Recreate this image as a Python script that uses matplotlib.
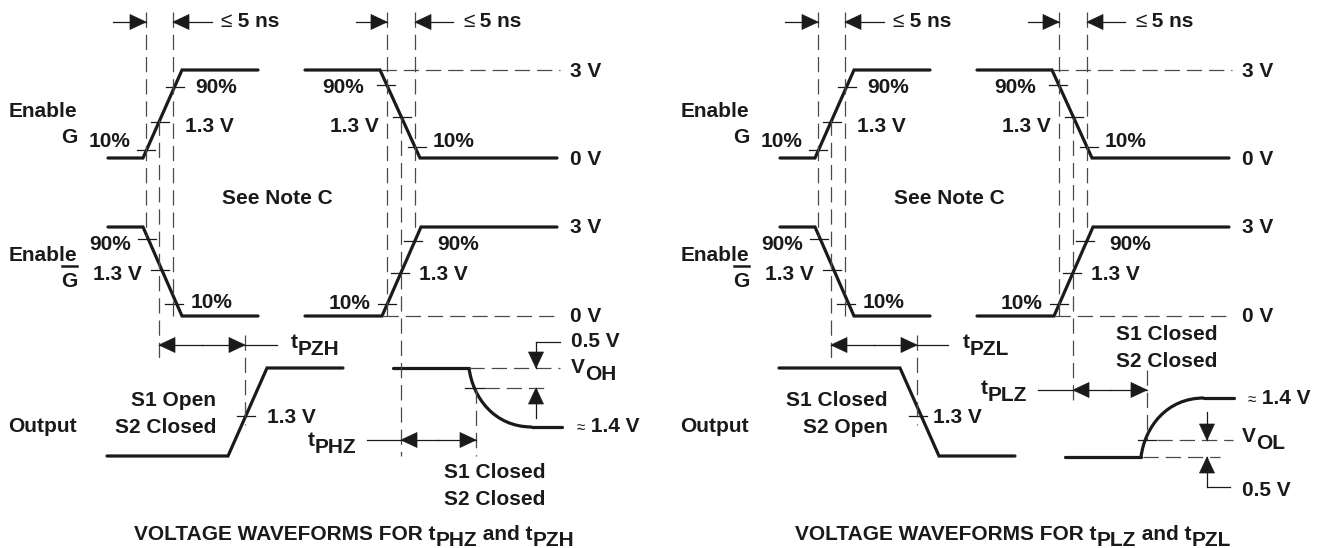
import matplotlib
matplotlib.use("Agg")
import matplotlib.pyplot as plt
from matplotlib.path import Path
from matplotlib.patches import PathPatch, Polygon

plt.rcParams['font.family'] = ['Liberation Sans', 'DejaVu Sans']
plt.rcParams['font.weight'] = 'bold'
plt.rcParams['lines.scale_dashes'] = False

W, H = 1325, 548
INK = '#1a1a1a'
DASH = '#4a4a4a'
FS = 15
DASHES = (11, 5)

# ---- diagram geometry (pixels, left panel; right panel shifted) ----
PANEL_DX = [0, 672]

# signal levels (low, high)
lvl_g = (158, 70)
lvl_gb = (316, 227)
lvl_out = (456, 368)

# edge times of each waveform and logic state at each vertex
g_x = [[108, 143, 182, 258], [305, 380, 420, 557]]
g_state = [[0, 0, 1, 1], [1, 1, 0, 0]]
gb_x = [[108, 143, 182, 258], [305, 382, 421, 557]]
gb_state = [[1, 1, 0, 0], [0, 0, 1, 1]]
out_x = [107, 228, 267, 343]
out_state = [[0, 0, 1, 1], [1, 1, 0, 0]]          # left panel, right panel
tail_x = [393, 469, 532, 562]
tail_y = [[368, 368, 427, 427], [457, 457, 398, 398]]

# 10% / 1.3 V / 90% crossing ticks (x centre, y)
ticks = [(146, 150), (160, 122), (175, 87),
         (386, 85), (402, 117), (417, 147),
         (147, 239), (160, 270), (174, 304),
         (387, 304), (400, 273), (413, 241),
         (246, 416)]

# dashed reference lines common to both panels (x0, y0, x1, y1)
dashed_common = [(146, 12, 146, 236), (159, 120, 159, 358), (173, 12, 173, 316),
                 (387, 12, 387, 316), (415, 12, 415, 228),
                 (245, 335, 245, 425),
                 (381, 70, 560, 70), (383, 316, 560, 316)]
dashed_left = [(401, 118, 401, 456), (476, 388, 476, 456),
               (469, 368, 560, 368), (484, 388, 547, 388)]
dashed_right = [(1073, 118, 1073, 402), (1147, 370, 1147, 440),
                (1157, 440, 1233, 440), (1143, 457, 1220, 457)]

# thin solid leader lines and extra crossing ticks
leaders = [(245, 345, 277, 345), (367, 440, 401, 440), (536, 342, 560, 342),
           (917, 345, 948, 345), (1038, 390, 1073, 390), (1207, 487, 1230, 487),
           (465, 388, 484, 388), (1138, 440, 1156, 440)]

# arrows (tail x, tail y, tip x, tip y)
arrows_common = [(113, 22, 146, 22), (212, 22, 173, 22),
                 (356, 22, 387, 22), (453, 22, 415, 22),
                 (202, 345, 159, 345), (202, 345, 245, 345)]
arrows_extra = [(438, 440, 401, 440), (438, 440, 476, 440),
                (536, 342, 536, 368), (536, 418, 536, 388),
                (1110, 390, 1073, 390), (1110, 390, 1147, 390),
                (1207, 412, 1207, 440), (1207, 487, 1207, 457)]

fig = plt.figure(figsize=(W / 100, H / 100), dpi=100)
ax = fig.add_axes([0, 0, 1, 1])
ax.set_xlim(0, W)
ax.set_ylim(H, 0)
ax.axis('off')
R = fig.canvas.get_renderer()


def wave(xs, states, lvl, dx):
    ax.plot([x + dx for x in xs], [lvl[s] for s in states], color=INK, lw=2.3,
            solid_joinstyle='miter', solid_capstyle='round')


def arrow(x0, y0, x1, y1, dx=0, hl=16, hw=7.5):
    x0 += dx
    x1 += dx
    ax.plot([x0, x1], [y0, y1], color=INK, lw=0.9)
    ux, uy = (x1 - x0), (y1 - y0)
    n = (ux ** 2 + uy ** 2) ** 0.5
    ux, uy = ux / n, uy / n
    bx, by = x1 - ux * hl, y1 - uy * hl
    ax.add_patch(Polygon([(x1, y1), (bx - uy * hw, by + ux * hw), (bx + uy * hw, by - ux * hw)],
                         closed=True, fc=INK, ec=INK, lw=0.5))


def run(x, y, parts, ha='left'):
    objs = []
    cx = x
    for s, dy, fs, wt in parts:
        t = ax.text(cx, y + dy, s, fontsize=fs, fontweight=wt, ha='left', va='baseline', color=INK)
        cx += t.get_window_extent(R).width
        objs.append(t)
    shift = {'left': 0, 'center': (cx - x) / 2, 'right': cx - x}[ha]
    for t in objs:
        t.set_x(t.get_position()[0] - shift)


def txt(x, y, s, ha='left'):
    ax.text(x, y, s, fontsize=FS, ha=ha, va='baseline', color=INK)


def sub(x, y, main, lower, ha='left'):
    run(x, y, [(main, 0, FS, 'bold'), (lower, 7, FS, 'bold')], ha)


def dashed(x0, y0, x1, y1, dx=0):
    ax.plot([x0 + dx, x1 + dx], [y0, y1], color=DASH, lw=0.9, dashes=DASHES)


for p, dx in enumerate(PANEL_DX):
    for i in range(2):
        wave(g_x[i], g_state[i], lvl_g, dx)
        wave(gb_x[i], gb_state[i], lvl_gb, dx)
    wave(out_x, out_state[p], lvl_out, dx)

    # output tail with exponential-like bend
    xs = [x + dx for x in tail_x]
    ys = tail_y[p]
    ax.plot(xs[:2], ys[:2], color=INK, lw=2.3, solid_capstyle='round')
    ax.plot(xs[2:], ys[2:], color=INK, lw=2.3, solid_capstyle='round')
    span = xs[2] - xs[1]
    verts = [(xs[1], ys[1]), (xs[1] + 0.06 * span, ys[1] + 0.5 * (ys[2] - ys[1])),
             (xs[1] + 0.4 * span, ys[2]), (xs[2], ys[2])]
    ax.add_patch(PathPatch(Path(verts, [Path.MOVETO, Path.CURVE4, Path.CURVE4, Path.CURVE4]),
                           fc='none', ec=INK, lw=2.3))

    for cx, cy in ticks:
        ax.plot([cx - 9 + dx, cx + 9 + dx], [cy, cy], color=INK, lw=0.9)
    for seg in dashed_common:
        dashed(*seg, dx=dx)
    for a in arrows_common:
        arrow(*a, dx=dx)

    # labels repeated in each panel
    run(220 + dx, 27, [('\u2264', 0, 15, 'normal'), (' 5 ns', 0, FS, 'bold')])
    run(463 + dx, 27, [('\u2264', 0, 15, 'normal'), (' 5 ns', 0, FS, 'bold')])
    txt(77 + dx, 117, 'Enable', 'right')
    txt(77 + dx, 143, 'G', 'right')
    txt(130 + dx, 147, '10%', 'right')
    txt(195 + dx, 93, '90%')
    txt(185 + dx, 132, '1.3 V')
    txt(364 + dx, 93, '90%', 'right')
    txt(379 + dx, 132, '1.3 V', 'right')
    txt(433 + dx, 147, '10%')
    txt(570 + dx, 77, '3 V')
    txt(570 + dx, 165, '0 V')
    txt(277 + dx, 204, 'See Note C', 'center')
    txt(131 + dx, 250, '90%', 'right')
    txt(77 + dx, 261, 'Enable', 'right')
    txt(77 + dx, 287, 'G', 'right')
    ax.plot([62 + dx, 77 + dx], [266, 266], color=INK, lw=1.8)
    txt(142 + dx, 280, '1.3 V', 'right')
    txt(191 + dx, 308, '10%')
    txt(370 + dx, 309, '10%', 'right')
    txt(419 + dx, 280, '1.3 V')
    txt(437 + dx, 250, '90%')
    txt(570 + dx, 233, '3 V')
    txt(570 + dx, 322, '0 V')
    txt(77 + dx, 432, 'Output', 'right')

for seg in dashed_left + dashed_right:
    dashed(*seg)
for x0, y0, x1, y1 in leaders:
    ax.plot([x0, x1], [y0, y1], color=INK, lw=0.9)
for a in arrows_extra:
    arrow(*a)

# left panel specific text
sub(291, 348, 't', 'PZH')
txt(216, 406, 'S1 Open', 'right')
txt(216, 433, 'S2 Closed', 'right')
txt(267, 423, '1.3 V')
sub(308, 446, 't', 'PHZ')
txt(571, 347, '0.5 V')
sub(571, 373, 'V', 'OH')
run(577, 432, [('\u2248', 0, 11, 'normal'), (' 1.4 V', 0, FS, 'bold')])
txt(495, 478, 'S1 Closed', 'center')
txt(495, 505, 'S2 Closed', 'center')
run(354, 540, [('VOLTAGE WAVEFORMS FOR t', 0, FS, 'bold'), ('PHZ', 6, FS, 'bold'),
               (' and t', 0, FS, 'bold'), ('PZH', 6, FS, 'bold')], 'center')

# right panel specific text
sub(963, 348, 't', 'PZL')
txt(888, 406, 'S1 Closed', 'right')
txt(888, 433, 'S2 Open', 'right')
txt(933, 423, '1.3 V')
txt(1167, 340, 'S1 Closed', 'center')
txt(1167, 367, 'S2 Closed', 'center')
sub(1027, 394, 't', 'PLZ', 'right')
run(1248, 404, [('\u2248', 0, 11, 'normal'), (' 1.4 V', 0, FS, 'bold')])
sub(1242, 442, 'V', 'OL')
txt(1242, 496, '0.5 V')
run(1013, 540, [('VOLTAGE WAVEFORMS FOR t', 0, FS, 'bold'), ('PLZ', 6, FS, 'bold'),
                (' and t', 0, FS, 'bold'), ('PZL', 6, FS, 'bold')], 'center')

fig.savefig('out.png', dpi=100)
